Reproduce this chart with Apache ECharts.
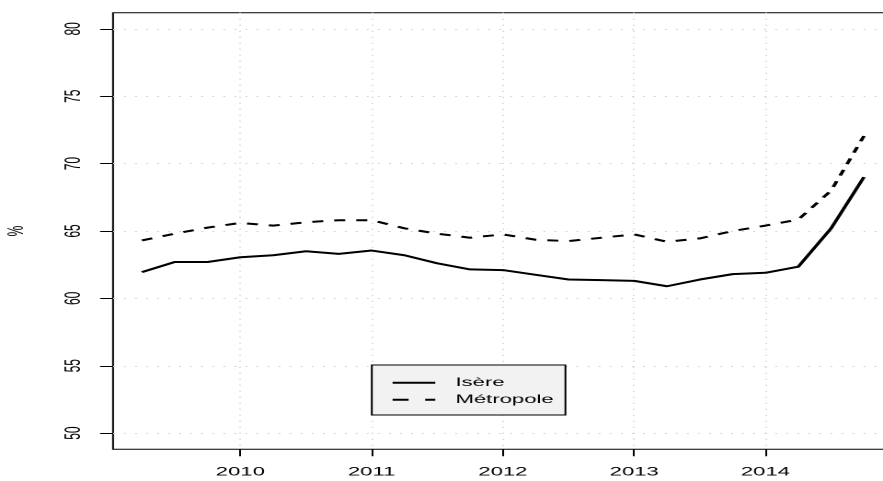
<!DOCTYPE html>
<html>
<head>
<meta charset="utf-8">
<script src="https://cdn.jsdelivr.net/npm/echarts@6/dist/echarts.min.js"></script>
<style>
html,body{margin:0;padding:0;background:#fff;overflow:hidden;}
#main{width:480px;height:481px;transform:scaleX(1.8396);transform-origin:0 0;}
</style>
</head>
<body>
<div id="main"></div>
<script>
// Quarterly observations (decimal year)
var quarters = [2009.25, 2009.5, 2009.75, 2010.0, 2010.25, 2010.5, 2010.75, 2011.0, 2011.25, 2011.5, 2011.75,
                2012.0, 2012.25, 2012.5, 2012.75, 2013.0, 2013.25, 2013.5, 2013.75, 2014.0, 2014.25, 2014.5, 2014.75];
var isere = [61.95, 62.7, 62.7, 63.05, 63.2, 63.5, 63.3, 63.55, 63.2, 62.6, 62.15,
             62.1, 61.75, 61.4, 61.35, 61.3, 60.9, 61.4, 61.8, 61.9, 62.35, 65.2, 69.0];
var metropole = [64.3, 64.8, 65.25, 65.6, 65.4, 65.65, 65.8, 65.8, 65.2, 64.8, 64.5,
                 64.75, 64.35, 64.25, 64.5, 64.75, 64.2, 64.45, 65.0, 65.4, 65.85, 68.0, 72.05];
var xTicks = [2010, 2011, 2012, 2013, 2014];
var yTicks = [50, 55, 60, 65, 70, 75, 80];
var seriesNames = ['Isère', 'Métropole'];
var yName = '%';

function pairs(xs, ys) { return xs.map(function (x, i) { return [x, ys[i]]; }); }

var FONT = 'Liberation Sans';
var chart = echarts.init(document.getElementById('main'), null, {devicePixelRatio: 2});
chart.setOption({
  animation: false,
  backgroundColor: '#fff',
  grid: {
    left: 61.43, top: 12.7, width: 423.9, height: 436.6,
    outerBoundsMode: 'none', containLabel: false,
    show: true, borderColor: '#000', borderWidth: 1, backgroundColor: 'transparent'
  },
  xAxis: {
    type: 'value', min: 2009.03, max: 2014.97,
    axisLine: {show: false},
    axisTick: {show: true, length: 7, lineStyle: {color: '#000', width: 1}, customValues: xTicks},
    axisLabel: {customValues: xTicks, margin: 17, fontSize: 12, color: '#000', fontFamily: FONT,
                formatter: function (v) { return String(Math.round(v)); }},
    splitLine: {show: true, lineStyle: {color: '#d3d3d3', type: [1, 5], width: 1}}
  },
  yAxis: {
    type: 'value', min: 48.8, max: 81.2,
    axisLine: {show: false},
    axisTick: {show: true, length: 7, lineStyle: {color: '#000', width: 1}, customValues: yTicks},
    axisLabel: {customValues: yTicks, rotate: 90, margin: 15, fontSize: 12, color: '#000', fontFamily: FONT,
                formatter: function (v) { return String(Math.round(v)); }},
    splitLine: {show: true, lineStyle: {color: '#d3d3d3', type: [1, 5], width: 1}},
    name: yName, nameLocation: 'middle', nameGap: 46,
    nameTextStyle: {fontSize: 12, color: '#000', fontFamily: FONT}
  },
  legend: {
    orient: 'vertical', left: 202.1, top: 365,
    padding: [11.7, 6.4, 9.3, 10.3],
    itemWidth: 23.2, itemHeight: 12, itemGap: 5,
    backgroundColor: '#f2f2f2', borderColor: '#000', borderWidth: 1,
    itemStyle: {opacity: 0},
    textStyle: {fontSize: 12, color: '#000', fontFamily: FONT, padding: [0, 0, 0, 6]},
    data: [
      {name: seriesNames[0], lineStyle: {type: 'solid', width: 2}},
      {name: seriesNames[1], lineStyle: {type: [8.7, 9], width: 2}}
    ]
  },
  series: [
    {name: seriesNames[0], type: 'line', symbol: 'none', data: pairs(quarters, isere),
     lineStyle: {color: '#000', width: 2, type: 'solid', join: 'round'}, itemStyle: {color: '#000'}},
    {name: seriesNames[1], type: 'line', symbol: 'none', data: pairs(quarters, metropole),
     lineStyle: {color: '#000', width: 2, type: [6, 6], join: 'round'}, itemStyle: {color: '#000'}}
  ]
});
</script>
</body>
</html>
